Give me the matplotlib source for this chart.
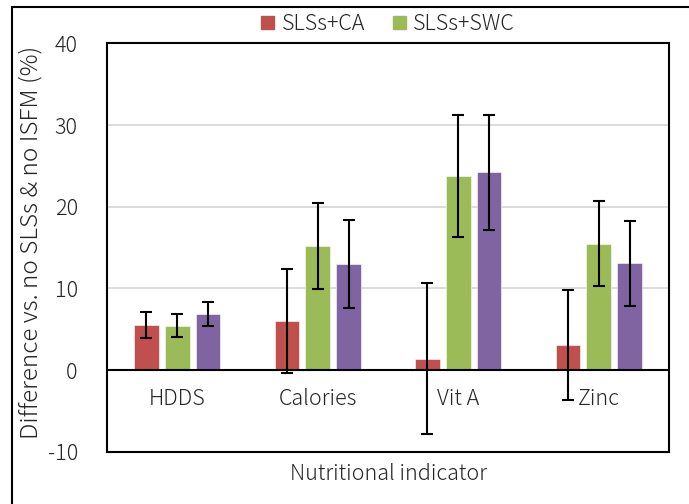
import numpy as np
import matplotlib
matplotlib.use('Agg')
import matplotlib.pyplot as plt
from matplotlib.patches import Rectangle, Patch

plt.rcParams['font.family'] = ['Noto Sans CJK JP', 'DejaVu Sans']
plt.rcParams['font.weight'] = 'light'
plt.rcParams['axes.unicode_minus'] = False

categories = ['HDDS', 'Calories', 'Vit A', 'Zinc']
ca = [5.5, 6.0, 1.4, 3.05]
ca_err = [1.6, 6.4, 9.25, 6.7]
swc = [5.45, 15.2, 23.75, 15.5]
swc_err = [1.45, 5.25, 7.5, 5.2]
both = [6.85, 13.0, 24.2, 13.1]
both_err = [1.5, 5.4, 7.0, 5.2]

colors = ['#C0504D', '#9BBB59', '#8064A2']
fs = 15.5
txt = '#262626'

fig = plt.figure(figsize=(6.89, 5.04), dpi=100)
ax = fig.add_axes([107/689, 1 - 451.7/504, (669 - 107)/689, (451.7 - 43.5)/504])

x = np.arange(len(categories))
width = 0.175
step = 0.22
series = [(ca, ca_err), (swc, swc_err), (both, both_err)]
for k, (vals, errs) in enumerate(series):
    pos = x + (k - 1) * step
    ax.bar(pos, vals, width, color=colors[k], edgecolor='white', linewidth=0.4, zorder=2)
    ax.errorbar(pos, vals, yerr=errs, fmt='none', ecolor='black', elinewidth=1.5,
                capsize=4.5, capthick=1.5, zorder=4)

ax.set_xlim(-0.5, len(categories) - 0.5)
ax.set_ylim(-10, 40)
ax.set_yticks([-10, 0, 10, 20, 30, 40])
ax.set_xticks([])
ax.tick_params(axis='y', length=0, pad=21, labelsize=fs, labelcolor=txt)
for y in [10, 20, 30]:
    ax.axhline(y, color='#D9D9D9', lw=1.3, zorder=0)
ax.axhline(0, color='black', lw=1.5, zorder=3)
for sp in ax.spines.values():
    sp.set_linewidth(1.5)

for i, c in enumerate(categories):
    ax.annotate(c, xy=(i, 0), xytext=(0, -21), textcoords='offset points',
                ha='center', va='center', fontsize=fs, color=txt, zorder=5)

fig.text(31/689, 1 - 242/504, 'Difference vs. no SLSs & no ISFM (%)', rotation=90,
         ha='center', va='center', fontsize=17.5, color=txt)
fig.text(388/689, 1 - 474/504, 'Nutritional indicator', ha='center', va='center',
         fontsize=fs, color=txt)

handles = [Patch(color=colors[0], label='SLSs+CA'), Patch(color=colors[1], label='SLSs+SWC')]
leg = fig.legend(handles=handles, loc='center', bbox_to_anchor=(388/689, 1 - 24/504), ncol=2,
                 frameon=False, fontsize=fs, handlelength=0.6, handleheight=0.6,
                 handletextpad=0.35, columnspacing=1.3)
for t in leg.get_texts():
    t.set_color(txt)

# outer chart border (clipped by the figure edge on right and bottom)
fig.patches.append(Rectangle((12/689, -0.1), 1.2, 1.1 - 7/504, transform=fig.transFigure,
                             fill=False, edgecolor='black', lw=1.5))

fig.savefig('out.png', dpi=100)
